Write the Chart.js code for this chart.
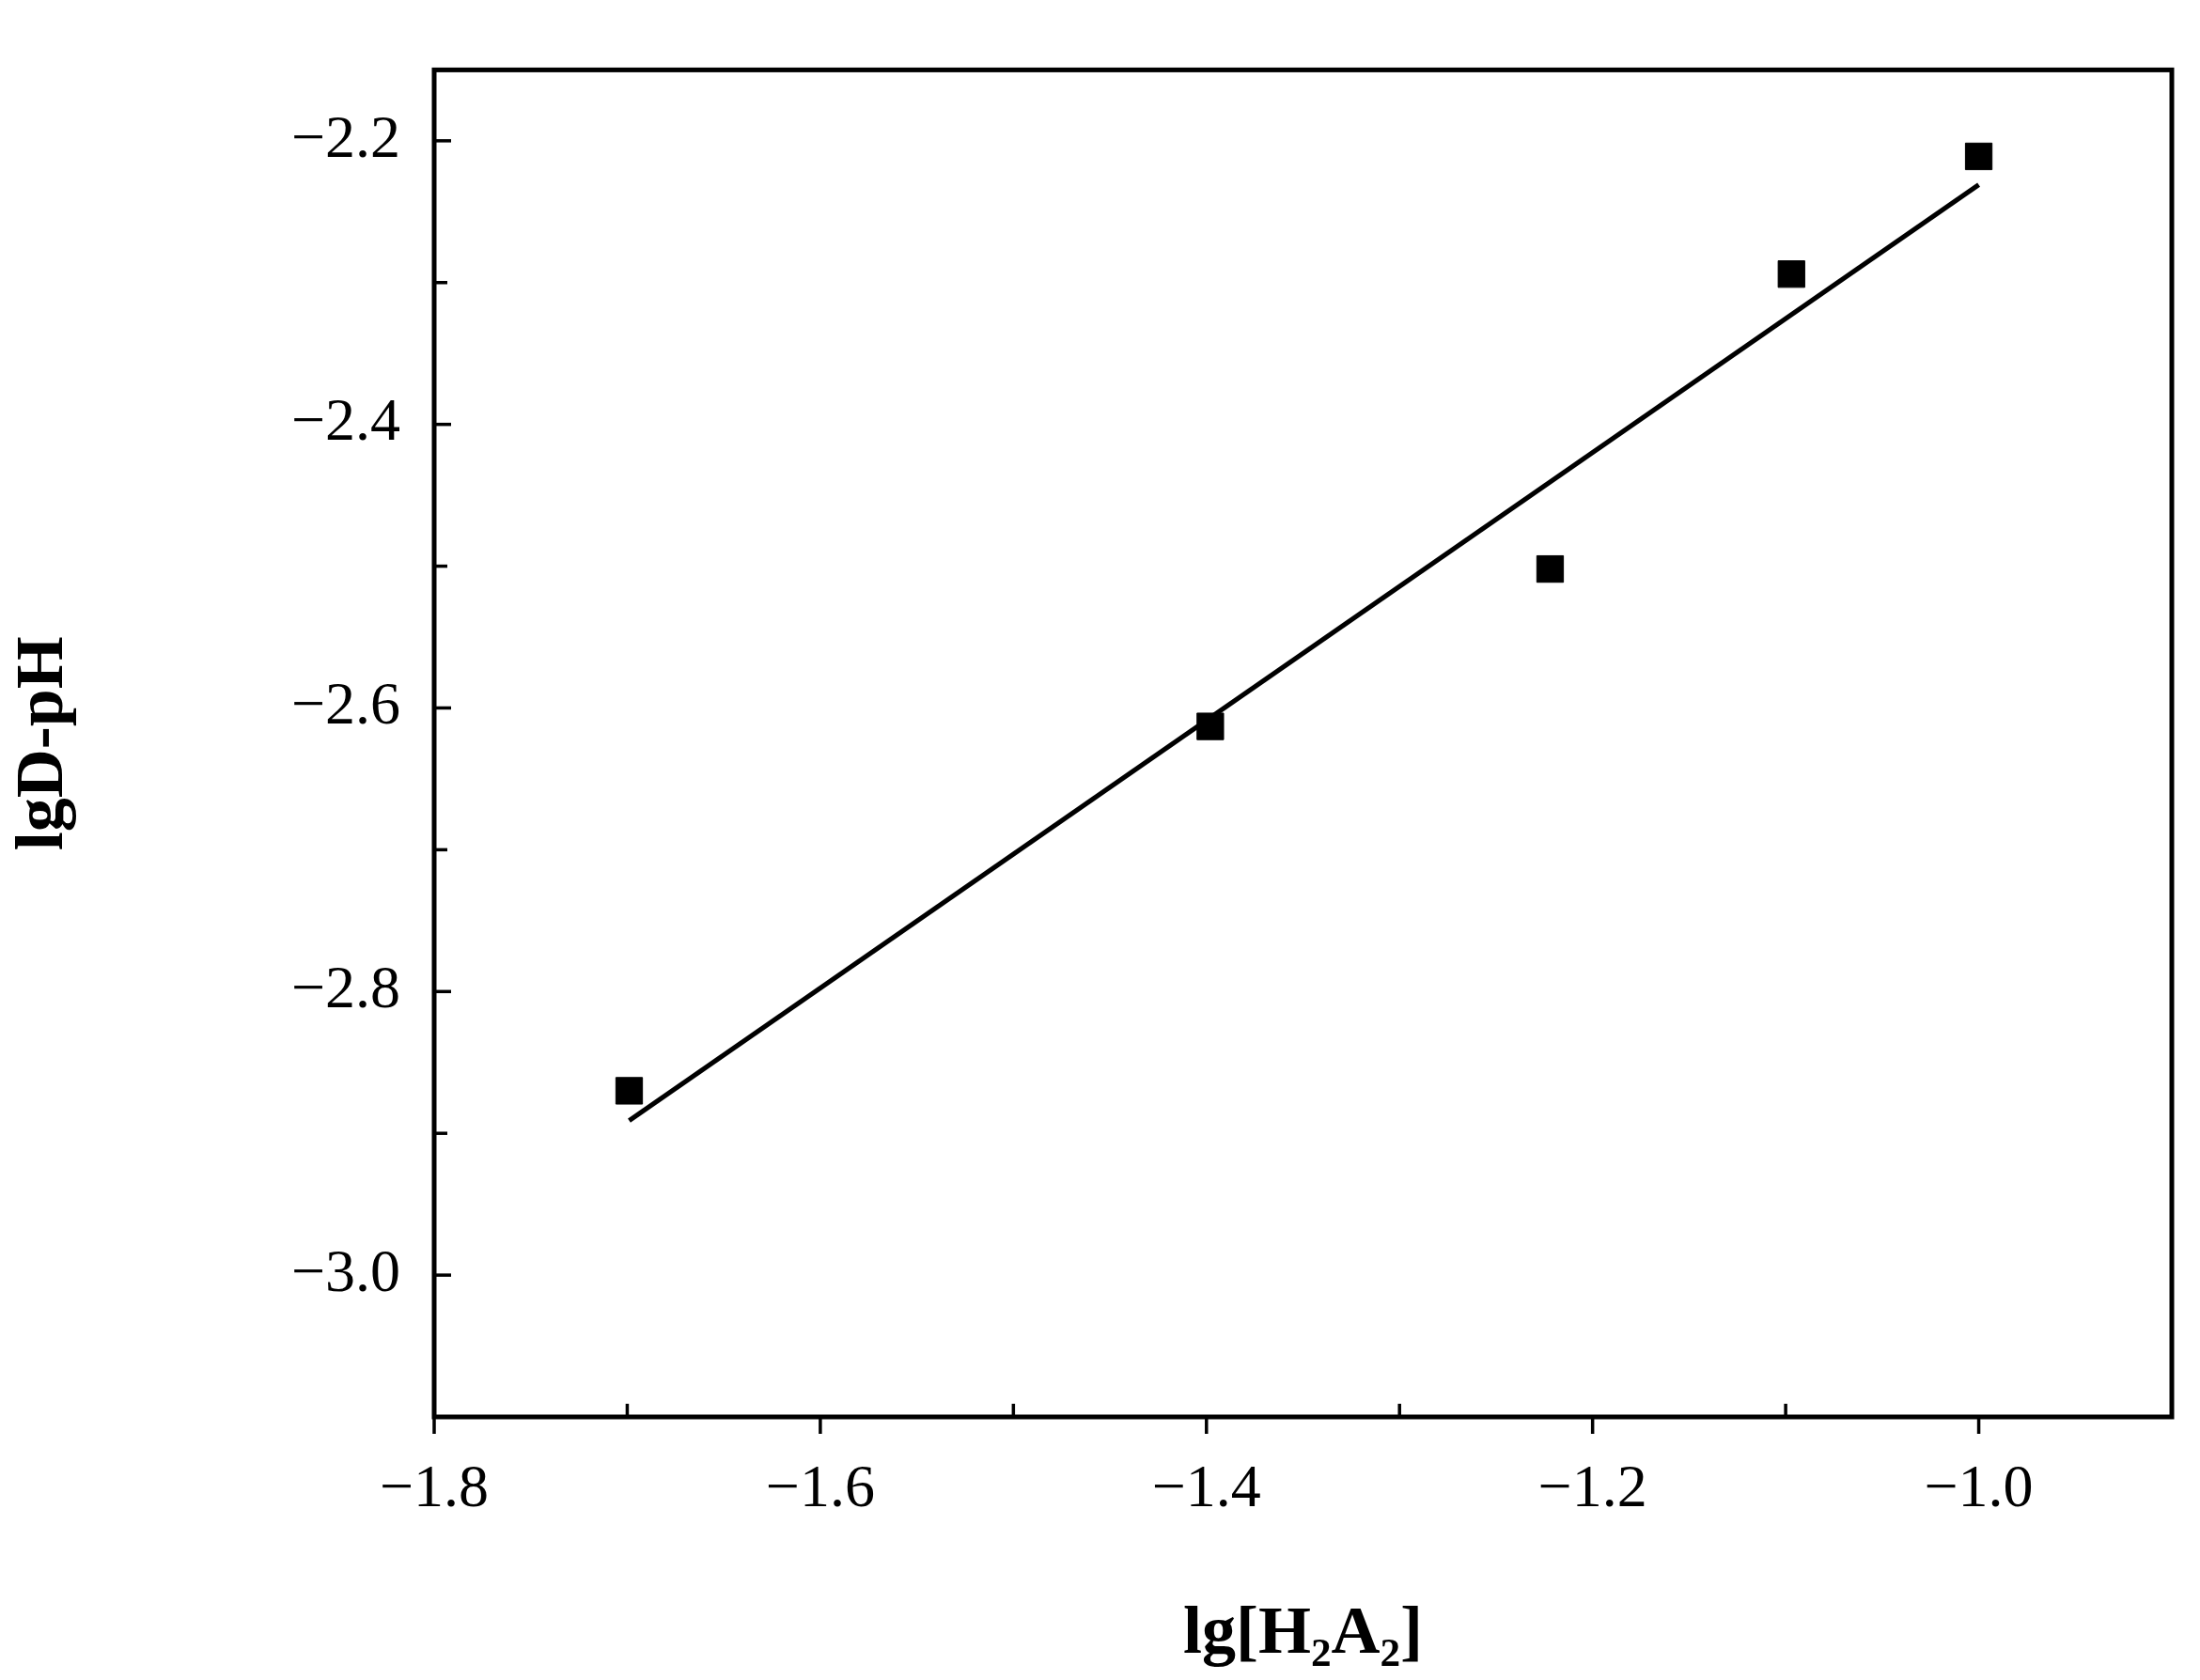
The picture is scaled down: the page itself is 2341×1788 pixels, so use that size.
<!DOCTYPE html>
<html>
<head>
<meta charset="utf-8">
<script src="https://cdn.jsdelivr.net/npm/chart.js@4/dist/chart.umd.min.js"></script>
<style>
  body { margin: 0; background: #fff; }
  #wrap { width: 2341px; height: 1788px; }
</style>
</head>
<body>
<div id="wrap"><canvas id="myChart"></canvas></div>
<script>
// measured points
const lgH2A2 = [-1.699, -1.398, -1.222, -1.097, -1.0];
const lgDpH = [-2.870, -2.613, -2.502, -2.294, -2.211];
// fitted line end points
const fitX = [-1.699, -1.0];
const fitY = [-2.891, -2.231];

const xMajor = [-1.8, -1.6, -1.4, -1.2, -1.0];
const yMajor = [-3.0, -2.8, -2.6, -2.4, -2.2];

const serif = '"Liberation Serif", "Times New Roman", Times, serif';

// inward ticks + full frame
const frameTicks = {
    id: 'frameTicks',
    afterDraw(chart) {
        const c = chart.ctx;
        const a = chart.chartArea;
        const xs = chart.scales.x, ys = chart.scales.y;
        c.save();
        c.strokeStyle = '#000';
        c.lineWidth = 5;
        c.strokeRect(a.left, a.top, a.right - a.left, a.bottom - a.top);
        c.lineWidth = 3.5;
        for (let v = -1.8; v <= -0.9001; v += 0.1) {
            const px = xs.getPixelForValue(v);
            const major = xMajor.some(m => Math.abs(m - v) < 1e-6);
            c.beginPath();
            c.moveTo(px, a.bottom);
            c.lineTo(px, a.bottom + (major ? 18 : -14));
            c.stroke();
        }
        for (let v = -3.1; v <= -2.15; v += 0.1) {
            const py = ys.getPixelForValue(v);
            const major = yMajor.some(m => Math.abs(m - v) < 1e-6);
            c.beginPath();
            c.moveTo(a.left, py);
            c.lineTo(a.left + (major ? 18 : 14), py);
            c.stroke();
        }
        c.restore();
    }
};

const ctx = document.getElementById('myChart').getContext('2d');
const myChart = new Chart(ctx, {
    type: 'scatter',
    data: {
        datasets: [
            {
                label: 'data',
                data: lgH2A2.map((x, i) => ({ x: x, y: lgDpH[i] })),
                pointStyle: 'rect',
                pointRadius: 20,
                backgroundColor: '#000',
                borderColor: '#000'
            },
            {
                label: 'fit',
                type: 'line',
                data: fitX.map((x, i) => ({ x: x, y: fitY[i] })),
                borderColor: '#000',
                borderWidth: 5,
                pointRadius: 0,
                fill: false
            }
        ]
    },
    plugins: [frameTicks],
    options: {
        responsive: true,
        maintainAspectRatio: false,
        animation: false,
        devicePixelRatio: 1,
        layout: { padding: { left: 0, top: 20, right: 30, bottom: 0 } },
        plugins: { legend: { display: false }, tooltip: { enabled: false } },
        scales: {
            x: {
                type: 'linear',
                min: -1.8,
                max: -0.9,
                afterFit: s => { s.height = 280; },
                afterBuildTicks: s => { s.ticks = xMajor.map(v => ({ value: v })); },
                grid: { display: false, drawTicks: false },
                border: { display: false },
                ticks: {
                    color: '#000',
                    padding: 40,
                    font: { family: serif, size: 64 },
                    callback: v => '\u2212' + Math.abs(v).toFixed(1)
                },
                title: {
                    display: true,
                    text: 'lg[H\u2082A\u2082]',
                    color: '#000',
                    font: { family: serif, size: 72, weight: 'bold' },
                    padding: { top: 40 }
                }
            },
            y: {
                type: 'linear',
                min: -3.1,
                max: -2.15,
                afterFit: s => { s.width = 462; },
                afterBuildTicks: s => { s.ticks = yMajor.map(v => ({ value: v })); },
                grid: { display: false, drawTicks: false },
                border: { display: false },
                ticks: {
                    color: '#000',
                    padding: 36,
                    font: { family: serif, size: 64 },
                    callback: v => '\u2212' + Math.abs(v).toFixed(1)
                },
                title: {
                    display: true,
                    text: 'lgD-pH',
                    color: '#000',
                    font: { family: serif, size: 72, weight: 'bold' },
                    padding: { bottom: 10 }
                }
            }
        }
    }
});
</script>
</body>
</html>
